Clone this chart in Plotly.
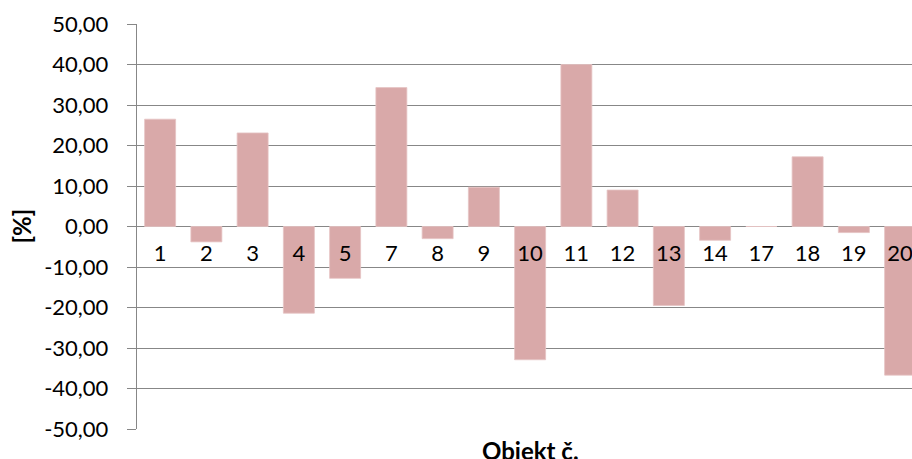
import plotly.graph_objects as go

# Relative deviation per object, in percent
objects = ["1", "2", "3", "4", "5", "7", "8", "9", "10", "11", "12", "13", "14", "17", "18", "19", "20"]
deviation = [26.5, -3.8, 23.1, -21.4, -12.8, 34.3, -3.0, 9.7, -32.9, 40.0, 9.0, -19.5, -3.4, 0.0, 17.2, -1.5, -36.7]
y_ticks = [-50, -40, -30, -20, -10, 0, 10, 20, 30, 40, 50]
y_tick_text = [f"{v:.2f}".replace(".", ",") for v in y_ticks]

W, H = 912, 459
L, R, T, B = 137, 0, 24, 30
grid = "#878787"
font = "Lato, 'Open Sans', sans-serif"

fig = go.Figure(
    go.Bar(
        x=objects,
        y=deviation,
        marker=dict(color="#D9A9A9", line=dict(color="#E6C4C4", width=0.8)),
        width=0.67,
    )
)

fig.update_layout(
    width=W,
    height=H,
    margin=dict(l=L, r=R, t=T, b=B),
    paper_bgcolor="white",
    plot_bgcolor="white",
    showlegend=False,
    font=dict(family=font, size=22, color="#000000"),
    xaxis=dict(
        type="category",
        range=[-0.5, 16.257],
        anchor="free",
        position=0.5,
        showline=False,
        showgrid=False,
        ticks="",
        tickfont=dict(family=font, size=22, color="#000000"),
        ticklabelstandoff=11,
    ),
    yaxis=dict(
        range=[-50, 50],
        tickvals=y_ticks,
        ticktext=y_tick_text,
        showgrid=True,
        gridcolor=grid,
        gridwidth=1.4,
        zeroline=True,
        zerolinecolor=grid,
        zerolinewidth=1.4,
        showline=True,
        linecolor=grid,
        linewidth=1.4,
        ticks="outside",
        ticklen=9,
        tickcolor=grid,
        tickwidth=1.4,
        tickfont=dict(family=font, size=22, color="#000000"),
        ticklabelstandoff=14,
    ),
    annotations=[
        dict(
            text="<b>Objekt č.</b>",
            xref="paper", yref="paper",
            x=(530 - L) / (W - L - R), y=0,
            xanchor="center", yanchor="top",
            yshift=-5,
            showarrow=False,
            font=dict(family=font, size=24, color="#000000"),
        ),
        dict(
            text="<b>[%]</b>",
            xref="paper", yref="paper",
            x=0, y=0.5,
            xanchor="center", yanchor="middle",
            xshift=-(L - 21),
            textangle=-90,
            showarrow=False,
            font=dict(family=font, size=24, color="#000000"),
        ),
    ],
)

fig.write_html("out.html")
